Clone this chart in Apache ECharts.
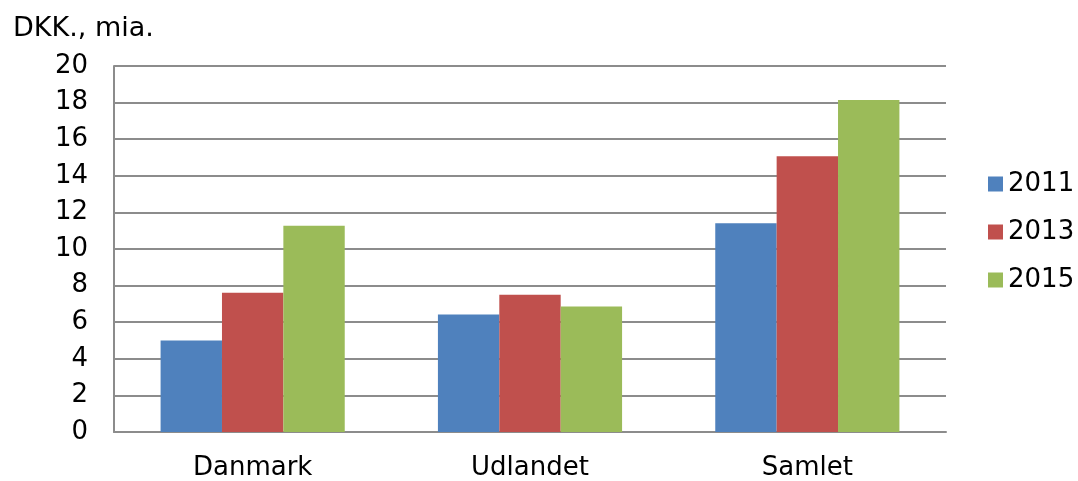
<!DOCTYPE html>
<html>
<head>
<meta charset="utf-8">
<script src="https://cdn.jsdelivr.net/npm/echarts@6/dist/echarts.min.js"></script>
<style>html,body{margin:0;padding:0;background:#fff}#c{width:1078px;height:481px}</style>
</head>
<body>
<div id="c"></div>
<script>
const categories = ['Danmark', 'Udlandet', 'Samlet'];
const seriesNames = ['2011', '2013', '2015'];
const v2011 = [5.0, 6.42, 11.41];
const v2013 = [7.61, 7.5, 15.07];
const v2015 = [11.27, 6.86, 18.14];
const yTicks = [0, 2, 4, 6, 8, 10, 12, 14, 16, 18, 20];
const colors = ['#4F81BD', '#C0504D', '#9BBB59'];
const FONT = 'DejaVu Sans';

const chart = echarts.init(document.getElementById('c'));
const vals = [v2011, v2013, v2015];
chart.setOption({
  animation: false,
  textStyle: { fontFamily: FONT },
  title: {
    text: 'DKK., mia.', left: 8, top: 10,
    textStyle: { fontFamily: FONT, fontSize: 27, fontWeight: 'normal', color: '#000' }
  },
  legend: {
    orient: 'vertical', left: 983, top: 166, itemGap: 22,
    itemWidth: 15, itemHeight: 15, icon: 'rect',
    textStyle: { fontFamily: FONT, fontSize: 26, color: '#000' },
    data: seriesNames
  },
  grid: { left: 114, right: 132, top: 66, bottom: 47 },
  xAxis: {
    type: 'category', data: categories,
    axisLine: { lineStyle: { color: '#8c8c8c', width: 2 } },
    axisTick: { show: false },
    axisLabel: { fontFamily: FONT, fontSize: 26, color: '#000', margin: 23 }
  },
  yAxis: {
    type: 'value', min: yTicks[0], max: yTicks[yTicks.length - 1], interval: 2,
    axisLine: { show: true, lineStyle: { color: '#8c8c8c', width: 2 } },
    axisTick: { show: false },
    splitLine: { lineStyle: { color: '#8c8c8c', width: 2 } },
    axisLabel: { fontFamily: FONT, fontSize: 26, color: '#000', margin: 26 }
  },
  series: seriesNames.map((n, i) => ({
    name: n, type: 'bar', data: vals[i],
    barGap: '0%', barCategoryGap: '33.6%',
    itemStyle: { color: colors[i] }
  }))
});
</script>
</body>
</html>
